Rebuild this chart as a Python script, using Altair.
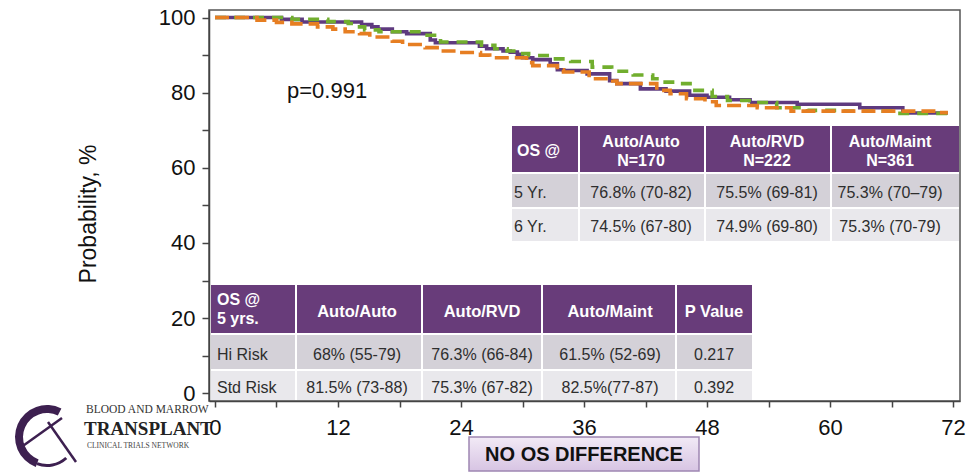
import altair as alt
import pandas as pd

# ---------------- data ----------------
# Kaplan-Meier step curves: months and overall survival (%)
purple_t = [0, 6.5, 8.5, 14.3, 15.3, 15.9, 17.3, 18.7, 21.0, 21.5, 25.8, 26.5, 28.1, 28.8, 29.5, 30.0,
            31.0, 32.7, 33.4, 34.0, 36.3, 38.5, 39.2, 41.5, 44.0, 46.3, 48.0, 50.2, 52.2, 56.8, 62.9,
            67.1, 71.5]
purple_s = [100, 99.5, 98.8, 98.1, 97.5, 96.9, 96.2, 95.7, 94.0, 93.3, 92.4, 91.7, 91.1, 90.8, 90.2, 89.3,
            88.8, 87.7, 86.1, 85.9, 85.0, 83.2, 82.4, 81.0, 80.4, 79.3, 78.8, 78.1, 77.4, 76.9, 76.0,
            74.6, 74.6]

green_t = [0, 7.5, 11.0, 13.0, 14.1, 14.6, 16.0, 20.5, 22.0, 26.0, 27.3, 28.5, 29.8, 30.6, 32.6, 34.7,
           36.8, 38.7, 40.8, 42.7, 43.7, 44.9, 46.6, 48.5, 50.0, 52.5, 54.8, 57.8, 61.0, 66.5, 71.5]
green_s = [100, 99.5, 98.9, 98.4, 97.5, 96.7, 96.2, 95.3, 93.5, 92.6, 91.7, 91.1, 90.4, 89.9, 89.0, 88.3,
           86.8, 85.7, 84.7, 83.7, 82.8, 82.4, 80.6, 79.0, 77.9, 77.4, 76.0, 75.3, 75.1, 74.5, 74.5]

orange_t = [0, 4.1, 6.0, 7.5, 10.0, 11.5, 12.7, 14.1, 15.1, 17.3, 18.3, 20.5, 22.0, 23.5, 25.9, 26.8,
            30.4, 31.0, 33.4, 34.0, 36.5, 38.8, 39.2, 43.1, 44.4, 46.0, 47.8, 48.9, 52.9, 56.2, 70.5, 71.5]
orange_s = [100, 99.3, 98.7, 98.3, 97.5, 96.9, 96.2, 95.7, 94.8, 93.7, 92.8, 92.0, 91.1, 90.7, 90.0, 89.3,
            88.0, 87.2, 86.1, 85.5, 83.7, 83.1, 82.4, 80.6, 79.7, 78.4, 77.6, 76.6, 76.0, 75.1, 74.7, 74.7]

x_ticks = [0, 6, 12, 18, 24, 30, 36, 42, 48, 54, 60, 66, 72]
y_ticks = [0, 10, 20, 30, 40, 50, 60, 70, 80, 90, 100]

p_text = "p=0.991"
y_title = "Probability, %"

# upper-right table
t1_corner = "OS @"
t1_cols = ["Auto/Auto", "Auto/RVD", "Auto/Maint"]
t1_n = ["N=170", "N=222", "N=361"]
t1_rows = ["5 Yr.", "6 Yr."]
t1_vals = [["76.8% (70-82)", "75.5% (69-81)", "75.3% (70\u201379)"],
           ["74.5% (67-80)", "74.9% (69-80)", "75.3% (70-79)"]]

# lower-left table
t2_corner = ["OS @", "5 yrs."]
t2_cols = ["Auto/Auto", "Auto/RVD", "Auto/Maint", "P Value"]
t2_rows = ["Hi Risk", "Std Risk"]
t2_vals = [["68% (55-79)", "76.3% (66-84)", "61.5% (52-69)", "0.217"],
           ["81.5% (73-88)", "75.3% (67-82)", "82.5%(77-87)", "0.392"]]

banner = "NO OS DIFFERENCE"
logo_lines = ["BLOOD AND MARROW", "TRANSPLANT", "CLINICAL TRIALS NETWORK"]

# ---------------- layout (pixels) ----------------
W, H = 751, 391
LEFT, TOP = 209, 10
XDOM = [-0.585, 72.68]
YDOM = [-2.05, 102.0]
FONT = "Liberation Sans"

HEAD = "#683C7A"
ROW_FILLS = ["#D4D1D8", "#E9E8EC"]
BODY_TXT = "#2E2E2E"

C_PURPLE = "#5E3A7F"
C_GREEN = "#71AE2E"
C_ORANGE = "#E67E22"


def dx(px):
    return XDOM[0] + (px - LEFT) / W * (XDOM[1] - XDOM[0])


def dy(py):
    return YDOM[1] - (py - TOP) / H * (YDOM[1] - YDOM[0])


xs = alt.Scale(domain=XDOM, nice=False, zero=False)
ys = alt.Scale(domain=YDOM, nice=False, zero=False)

xaxis = alt.Axis(values=x_ticks, labelExpr="datum.value % 12 == 0 ? datum.label : ''", title=None,
                 grid=False, tickSize=6, tickWidth=1.5, tickColor="#444", domainColor="#444",
                 domainWidth=1.5, labelFontSize=22, labelFont=FONT, labelColor="#111",
                 labelPadding=10, labelFlush=False, labelOverlap=False)
yaxis = alt.Axis(values=y_ticks, labelExpr="datum.value % 20 == 0 ? datum.label : ''", title=None,
                 grid=False, tickSize=7, tickWidth=1.5, tickColor="#444", domainColor="#444",
                 domainWidth=1.5, labelFontSize=22, labelFont=FONT, labelColor="#111",
                 labelPadding=7, labelOverlap=False)


def X(field):
    return alt.X(field, type="quantitative", scale=xs, axis=xaxis)


def Y(field):
    return alt.Y(field, type="quantitative", scale=ys, axis=yaxis)


def curve(t, s, color, dash):
    df = pd.DataFrame({"x": t, "y": s})
    return alt.Chart(df).mark_line(interpolate="step-after", strokeWidth=3.6, color=color,
                                   strokeDash=dash).encode(x=X("x"), y=Y("y"))


lines = [curve(purple_t, purple_s, C_PURPLE, [1, 0]),
         curve(green_t, green_s, C_GREEN, [11, 8]),
         curve(orange_t, orange_s, C_ORANGE, [14, 6])]

# ---------------- tables ----------------
rects = []
texts = []  # (x, y, label, kind)

# table 1
T1_X = [(512, 578), (580, 704), (706, 830), (832, 959)]
T1_Y = [(126, 172), (174, 207), (209, 241)]
T1_TX = [517, 641, 767, 890]
for i, (y0, y1) in enumerate(T1_Y):
    for j, (x0, x1) in enumerate(T1_X):
        rects.append((x0, x1, y0, y1, HEAD if i == 0 else ROW_FILLS[i - 1]))
texts.append((T1_TX[0], 150, t1_corner, "hl"))
for j, c in enumerate(t1_cols):
    texts.append((T1_TX[j + 1], 141, c, "hc"))
    texts.append((T1_TX[j + 1], 160, t1_n[j], "hc"))
T1_RY = [192, 226]
for i, r in enumerate(t1_rows):
    texts.append((514, T1_RY[i], r, "bl"))
    for j, v in enumerate(t1_vals[i]):
        texts.append((T1_TX[j + 1], T1_RY[i], v, "bc"))

# table 2
T2_X = [(211, 295), (297, 421), (423, 541), (543, 675), (677, 752)]
T2_Y = [(285, 333), (335, 369), (371, 400)]
T2_TX = [217, 357, 482, 610, 714]
for i, (y0, y1) in enumerate(T2_Y):
    for j, (x0, x1) in enumerate(T2_X):
        rects.append((x0, x1, y0, y1, HEAD if i == 0 else ROW_FILLS[i - 1]))
texts.append((T2_TX[0], 299, t2_corner[0], "hl"))
texts.append((T2_TX[0], 318, t2_corner[1], "hl"))
for j, c in enumerate(t2_cols):
    texts.append((T2_TX[j + 1], 311, c, "hc2"))
T2_RY = [354, 387]
for i, r in enumerate(t2_rows):
    texts.append((T2_TX[0], T2_RY[i], r, "bl"))
    for j, v in enumerate(t2_vals[i]):
        texts.append((T2_TX[j + 1], T2_RY[i], v, "bc"))

rect_df = pd.DataFrame([{"x": dx(a), "x2": dx(b), "y": dy(c), "y2": dy(d), "fill": f}
                        for a, b, c, d, f in rects])
text_df = pd.DataFrame([{"x": dx(a), "y": dy(b + 1), "label": l, "kind": k} for a, b, l, k in texts])

table_rects = alt.Chart(rect_df).mark_rect().encode(
    x=X("x"), x2="x2", y=Y("y"), y2="y2", fill=alt.Fill("fill:N", scale=None))


def text_layer(kind, align, bold, color, size):
    return alt.Chart(text_df).transform_filter(alt.datum.kind == kind).mark_text(
        align=align, baseline="middle", font=FONT, fontSize=size,
        fontWeight="bold" if bold else "normal", color=color).encode(x=X("x"), y=Y("y"), text="label:N")


table_texts = [text_layer("hc", "center", True, "white", 16),
               text_layer("hc2", "center", True, "white", 16.5),
               text_layer("hl", "left", True, "white", 16),
               text_layer("bc", "center", False, BODY_TXT, 16),
               text_layer("bl", "left", False, BODY_TXT, 16)]

one = pd.DataFrame({"a": [0]})

p_label = alt.Chart(one).mark_text(align="left", baseline="alphabetic", font=FONT, fontSize=22,
                                   color="#111").encode(
    x=alt.value(287 - LEFT), y=alt.value(98 - TOP), text=alt.value(p_text))

ytitle = alt.Chart(one).mark_text(align="center", baseline="middle", font=FONT, fontSize=23,
                                  angle=270, color="#111").encode(
    x=alt.value(89 - LEFT), y=alt.value(214 - TOP), text=alt.value(y_title))

# banner box
grad = alt.LinearGradient(gradient="linear", x1=0, x2=0, y1=0, y2=1,
                          stops=[alt.GradientStop(color="#F2EAF6", offset=0),
                                 alt.GradientStop(color="#D7C4E3", offset=1)])
banner_box = alt.Chart(one).mark_rect(fill=grad, stroke="#9E86B3", strokeWidth=1.5).encode(
    x=alt.value(469 - LEFT), x2=alt.value(699 - LEFT), y=alt.value(437 - TOP), y2=alt.value(471 - TOP))
banner_txt = alt.Chart(one).mark_text(align="center", baseline="middle", font=FONT, fontSize=20,
                                      fontWeight="bold", color="#111").encode(
    x=alt.value(584 - LEFT), y=alt.value(455 - TOP), text=alt.value(banner))

# logo (swoosh approximated by arcs and thin strokes)
LOGO_PURPLE = "#3D2050"
arc1 = alt.Chart(one).mark_arc(theta=3.5, theta2=6.75, innerRadius=24, outerRadius=32,
                               color=LOGO_PURPLE).encode(x=alt.value(47 - LEFT), y=alt.value(437 - TOP))
arc2 = alt.Chart(one).mark_arc(theta=2.4, theta2=3.5, innerRadius=27, outerRadius=30,
                               color=LOGO_PURPLE).encode(x=alt.value(47 - LEFT), y=alt.value(437 - TOP))
stroke1 = alt.Chart(one).mark_rule(color=LOGO_PURPLE, strokeWidth=2.5).encode(
    x=alt.value(20 - LEFT), y=alt.value(448 - TOP), x2=alt.value(62 - LEFT), y2=alt.value(418 - TOP))
stroke2 = alt.Chart(one).mark_rule(color=LOGO_PURPLE, strokeWidth=2.5).encode(
    x=alt.value(48 - LEFT), y=alt.value(422 - TOP), x2=alt.value(76 - LEFT), y2=alt.value(462 - TOP))
logo1 = alt.Chart(one).mark_text(align="left", baseline="middle", font="Liberation Serif", fontSize=11.5,
                                 color="#333").encode(
    x=alt.value(86 - LEFT), y=alt.value(410 - TOP), text=alt.value(logo_lines[0]))
logo2 = alt.Chart(one).mark_text(align="left", baseline="middle", font="Liberation Serif", fontSize=19,
                                 fontWeight="bold", color="#222").encode(
    x=alt.value(84 - LEFT), y=alt.value(429 - TOP), text=alt.value(logo_lines[1]))
logo3 = alt.Chart(one).mark_text(align="left", baseline="middle", font="Liberation Serif", fontSize=7.5,
                                 color="#444").encode(
    x=alt.value(87 - LEFT), y=alt.value(446 - TOP), text=alt.value(logo_lines[2]))

chart = alt.layer(*lines, table_rects, *table_texts, p_label, ytitle, banner_box, banner_txt,
                  arc1, arc2, stroke1, stroke2, logo1, logo2, logo3).properties(
    width=W, height=H,
    padding={"left": LEFT, "top": TOP, "right": 974 - LEFT - W, "bottom": 472 - TOP - H},
    autosize=alt.AutoSizeParams(type="none"),
    background="white",
).configure_view(stroke="#555", strokeWidth=1.5)

chart.save("out.html", embed_options={"renderer": "svg", "actions": False})
